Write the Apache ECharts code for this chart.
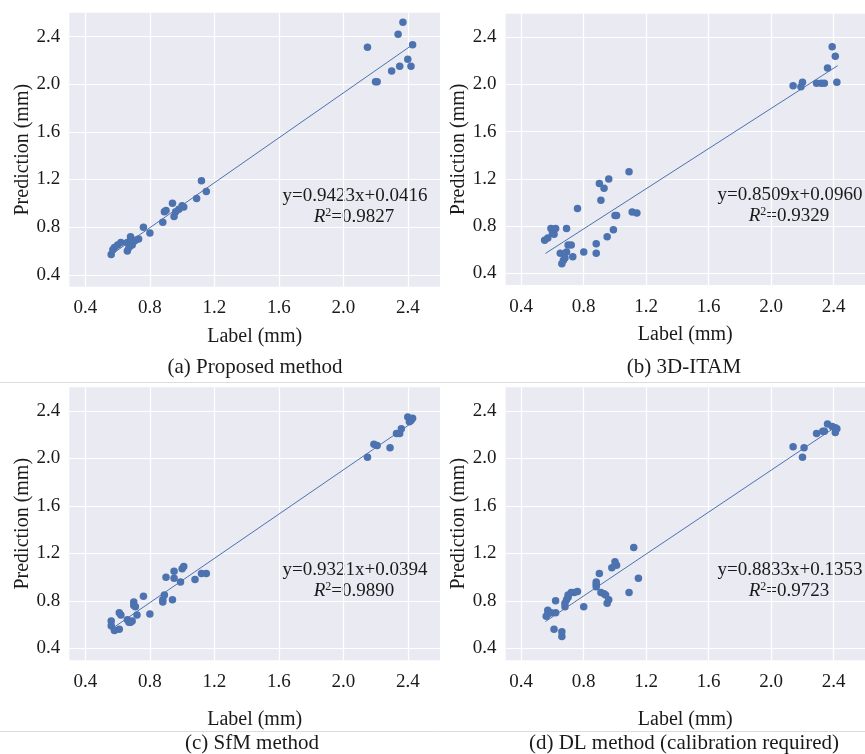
<!DOCTYPE html>
<html>
<head>
<meta charset="utf-8">
<script src="https://cdn.jsdelivr.net/npm/echarts@6/dist/echarts.min.js"></script>
<style>
html, body { margin: 0; padding: 0; background: #fff; }
#main { width: 865px; height: 754px; }
</style>
</head>
<body>
<div id="main"></div>
<script>
var tickValues = [0.4, 0.8, 1.2, 1.6, 2.0, 2.4];

// (a) Proposed method
var propLabel = [0.56, 0.57, 0.58, 0.60, 0.62, 0.66, 0.66, 0.67, 0.68, 0.68, 0.69, 0.70, 0.71, 0.73, 0.76, 0.80, 0.88, 0.89, 0.90, 0.94, 0.95, 0.96, 0.98, 1.00, 1.01, 1.09, 1.12, 1.15, 2.15, 2.20, 2.21, 2.30, 2.34, 2.35, 2.37, 2.40, 2.42, 2.43];
var propPred  = [0.57, 0.61, 0.63, 0.65, 0.67, 0.60, 0.67, 0.63, 0.72, 0.69, 0.65, 0.68, 0.69, 0.70, 0.80, 0.75, 0.84, 0.93, 0.94, 1.00, 0.89, 0.93, 0.95, 0.98, 0.97, 1.04, 1.19, 1.10, 2.31, 2.02, 2.02, 2.11, 2.42, 2.15, 2.52, 2.21, 2.15, 2.33];

// (b) 3D-ITAM
var itamLabel = [0.55, 0.57, 0.59, 0.60, 0.61, 0.62, 0.65, 0.66, 0.67, 0.68, 0.69, 0.69, 0.70, 0.72, 0.73, 0.76, 0.80, 0.88, 0.88, 0.90, 0.91, 0.93, 0.95, 0.96, 0.99, 1.00, 1.01, 1.09, 1.11, 1.14, 2.14, 2.19, 2.20, 2.29, 2.32, 2.34, 2.36, 2.39, 2.41, 2.42];
var itamPred  = [0.68, 0.70, 0.78, 0.74, 0.73, 0.78, 0.57, 0.48, 0.51, 0.53, 0.58, 0.78, 0.64, 0.64, 0.54, 0.95, 0.58, 0.65, 0.57, 1.16, 1.02, 1.12, 0.71, 1.20, 0.77, 0.89, 0.89, 1.26, 0.92, 0.91, 1.99, 1.98, 2.02, 2.01, 2.01, 2.01, 2.14, 2.32, 2.24, 2.02];

// (c) SfM method
var sfmLabel = [0.56, 0.56, 0.58, 0.61, 0.61, 0.62, 0.66, 0.67, 0.68, 0.69, 0.70, 0.70, 0.71, 0.72, 0.76, 0.80, 0.88, 0.88, 0.89, 0.90, 0.94, 0.95, 0.95, 0.99, 1.00, 1.01, 1.08, 1.12, 1.15, 2.15, 2.19, 2.21, 2.29, 2.33, 2.35, 2.36, 2.40, 2.41, 2.42, 2.43];
var sfmPred  = [0.59, 0.63, 0.55, 0.56, 0.70, 0.68, 0.64, 0.62, 0.62, 0.63, 0.79, 0.76, 0.75, 0.68, 0.84, 0.69, 0.79, 0.81, 0.85, 1.00, 0.81, 0.99, 1.05, 0.96, 1.07, 1.09, 0.98, 1.03, 1.03, 2.01, 2.12, 2.11, 2.09, 2.21, 2.21, 2.25, 2.35, 2.31, 2.32, 2.34];

// (d) DL method
var dlLabel = [0.56, 0.57, 0.57, 0.59, 0.61, 0.62, 0.62, 0.66, 0.66, 0.68, 0.68, 0.69, 0.70, 0.70, 0.72, 0.74, 0.76, 0.80, 0.88, 0.88, 0.88, 0.90, 0.91, 0.93, 0.94, 0.95, 0.96, 0.98, 1.00, 1.01, 1.09, 1.12, 1.15, 2.14, 2.20, 2.21, 2.29, 2.33, 2.34, 2.36, 2.39, 2.41, 2.42, 2.41];
var dlPred  = [0.67, 0.69, 0.72, 0.70, 0.56, 0.70, 0.80, 0.54, 0.50, 0.75, 0.78, 0.81, 0.83, 0.85, 0.87, 0.87, 0.88, 0.75, 0.92, 0.94, 0.96, 1.03, 0.87, 0.86, 0.85, 0.78, 0.81, 1.08, 1.13, 1.10, 0.87, 1.25, 0.99, 2.10, 2.01, 2.09, 2.21, 2.23, 2.23, 2.29, 2.27, 2.26, 2.25, 2.22];

// fitted lines as printed on each panel
var slopes = [0.9423, 0.8509, 0.9321, 0.8833];
var intercepts = [0.0416, 0.0960, 0.0394, 0.1353];
var r2Texts = ['0.9827', '0.9329', '0.9890', '0.9723'];
var fitRange = [0.555, 2.425];

var captions = ['(a) Proposed method', '(b) 3D-ITAM', '(c) SfM method', '(d) DL method (calibration required)'];

var xs = [propLabel, itamLabel, sfmLabel, dlLabel];
var ys = [propPred, itamPred, sfmPred, dlPred];

var FONT = '"Liberation Serif", "Times New Roman", serif';
var DOT = '#4C72B0';
var INK = '#1a1a1a';

var grids = [
    { left: 69.3, top: 12.7, width: 370.7, height: 274 },
    { left: 505.6, top: 13.7, width: 370.8, height: 271.4 },
    { left: 69.3, top: 387.3, width: 370.7, height: 272.9 },
    { left: 505.6, top: 387.3, width: 370.8, height: 272.9 }
];
grids.forEach(function(g) {
    g.show = true;
    g.backgroundColor = '#EAEAF2';
    g.borderWidth = 0;
    g.containLabel = false;
});

function makeAxis(i, isX) {
    var top = i < 2;
    return {
        type: 'value',
        gridIndex: i,
        min: 0.3,
        max: 2.6,
        name: isX ? 'Label (mm)' : 'Prediction (mm)',
        nameLocation: 'middle',
        nameGap: isX ? (top ? 40 : 50) : 37,
        nameTextStyle: { fontFamily: FONT, fontSize: 20, color: INK },
        axisLine: { show: false },
        axisTick: { show: false, customValues: tickValues },
        axisLabel: {
            customValues: tickValues,
            fontFamily: FONT,
            fontSize: 19,
            color: INK,
            margin: isX ? 12 : 9,
            formatter: function(v) { return v.toFixed(1); }
        },
        splitLine: { show: true, lineStyle: { color: '#ffffff', width: 1.2 } }
    };
}

var xAxes = [], yAxes = [], series = [];
for (var i = 0; i < 4; i++) {
    xAxes.push(makeAxis(i, true));
    yAxes.push(makeAxis(i, false));
    var pts = xs[i].map(function(x, k) { return [x, ys[i][k]]; });
    series.push({
        type: 'scatter',
        xAxisIndex: i,
        yAxisIndex: i,
        symbolSize: 7.5,
        itemStyle: { color: DOT, opacity: 1 },
        data: pts,
        z: 2
    });
    var s = slopes[i], b = intercepts[i];
    series.push({
        type: 'line',
        xAxisIndex: i,
        yAxisIndex: i,
        showSymbol: false,
        lineStyle: { color: DOT, width: 1 },
        data: fitRange.map(function(x) { return [x, s * x + b]; }),
        z: 3,
        silent: true
    });
}

// annotations, captions, separators
var eqPos = [[355, 196], [790, 195], [355, 570], [790, 570]];
var capPos = [[255, 367], [684, 367], [252, 743], [684, 743]];
var graphics = [];
for (var j = 0; j < 4; j++) {
    graphics.push({
        type: 'text', x: eqPos[j][0], y: eqPos[j][1],
        style: {
            text: 'y=' + slopes[j].toFixed(4) + 'x+' + intercepts[j].toFixed(4),
            fontFamily: FONT, fontSize: 19, fill: INK,
            align: 'center', verticalAlign: 'middle'
        }
    });
    graphics.push({
        type: 'text', x: eqPos[j][0] - 1, y: eqPos[j][1] + 21,
        style: {
            text: '{i|R}{sup|2}{n|=' + r2Texts[j] + '}',
            fontFamily: FONT, fontSize: 19, fill: INK,
            align: 'center', verticalAlign: 'middle',
            rich: {
                i: { fontFamily: FONT, fontSize: 19, fontStyle: 'italic', fill: INK, lineHeight: 20, verticalAlign: 'middle' },
                sup: { fontFamily: FONT, fontSize: 12, fill: INK, lineHeight: 20, verticalAlign: 'top', padding: [0, 0, 0, 0] },
                n: { fontFamily: FONT, fontSize: 19, fill: INK, lineHeight: 20, verticalAlign: 'middle' }
            }
        }
    });
    graphics.push({
        type: 'text', x: capPos[j][0], y: capPos[j][1],
        style: {
            text: captions[j],
            fontFamily: FONT, fontSize: 21, fill: INK,
            align: 'center', verticalAlign: 'middle'
        }
    });
}
graphics.push({ type: 'line', shape: { x1: 0, y1: 382.5, x2: 865, y2: 382.5 }, style: { stroke: '#dcdcdc', lineWidth: 1 } });
graphics.push({ type: 'line', shape: { x1: 0, y1: 731.5, x2: 865, y2: 731.5 }, style: { stroke: '#dcdcdc', lineWidth: 1 } });

var chart = echarts.init(document.getElementById('main'));
chart.setOption({
    animation: false,
    backgroundColor: '#ffffff',
    grid: grids,
    xAxis: xAxes,
    yAxis: yAxes,
    series: series,
    graphic: graphics
});
</script>
</body>
</html>
